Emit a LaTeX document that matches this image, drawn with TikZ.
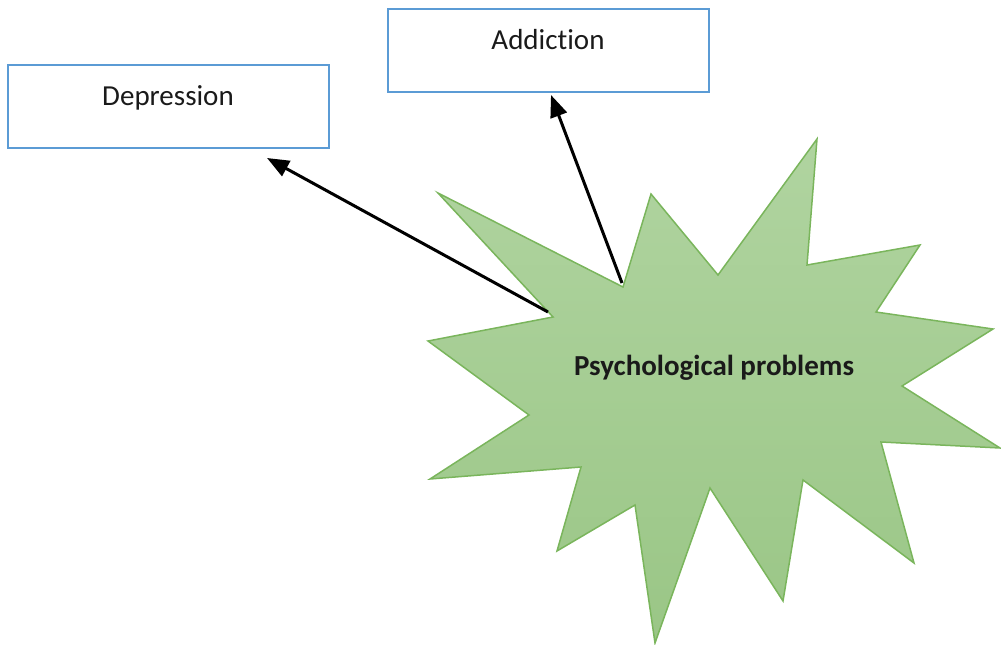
\documentclass[tikz,border=0pt]{standalone}
\usepackage{fontspec}
\setmainfont{Carlito}[Ligatures={NoCommon}]
\usetikzlibrary{arrows.meta}
\definecolor{boxblue}{HTML}{5B9BD5}
\definecolor{stargreen}{HTML}{7AB55C}
\definecolor{startop}{HTML}{B0D4A0}
\definecolor{starbot}{HTML}{9AC686}
\definecolor{txt}{HTML}{1A1A1A}
\begin{document}
\begin{tikzpicture}[x=1pt,y=-1pt,
  labelbox/.style={draw=boxblue,line width=2pt,fill=white},
  lbl/.style={font=\fontsize{29}{34}\selectfont,text=txt,anchor=base,inner sep=0pt},
  burst/.style={draw=stargreen,line width=1.5pt,top color=startop,bottom color=starbot},
  conn/.style={line width=3pt,-{Triangle[length=22pt,width=17pt]}}]
\useasboundingbox (0,0) rectangle (1001,645);
% boxes
\draw[labelbox] (8,65) rectangle (329,148);
\draw[labelbox] (388,9) rectangle (709,92);
\node[lbl] (dep) at (168,105) {Depression};
\node[lbl] (add) at (548,49) {Addiction};
% star
\path[burst] (438,193) -- (623,287) -- (651,194) -- (718,275) -- (817,139) -- (807,265)
  -- (920,245) -- (876,312) -- (993,329) -- (902,386) -- (1000,448) -- (881,442)
  -- (914,563) -- (803,480) -- (783,601) -- (710,488) -- (655,643) -- (635,505)
  -- (557,551) -- (581,467) -- (430,479) -- (529,415) -- (428,341) -- (553,317) -- cycle;
\node[lbl,font=\fontsize{29}{34}\selectfont\bfseries] (psy) at (714,375) {Psychological problems};
% connectors
\coordinate (s1) at (548,312);
\coordinate (e1) at (267,158);
\coordinate (s2) at (622,283);
\coordinate (e2) at (551,95);
\draw[conn] (s1) -- (e1);
\draw[conn] (s2) -- (e2);
\end{tikzpicture}
\end{document}
